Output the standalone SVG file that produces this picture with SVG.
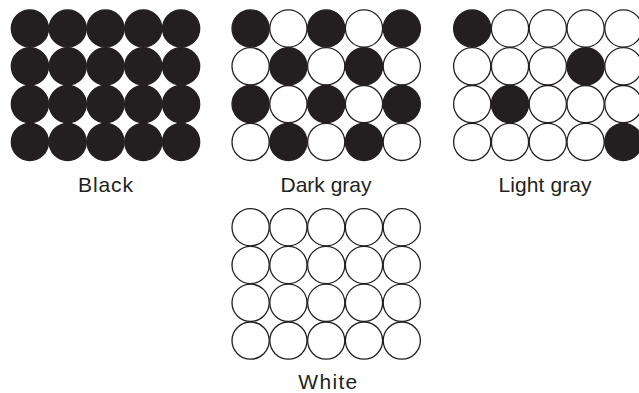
<svg xmlns="http://www.w3.org/2000/svg" width="639" height="393" viewBox="0 0 639 393">
<style>
.w{fill:#ffffff;stroke:#231f20;stroke-width:1.3}
.b{fill:#231f20;stroke:#231f20;stroke-width:1.3}
.lbl{font-family:"Liberation Sans",Arial,sans-serif;font-size:21px;fill:#231f20;text-anchor:middle}
</style>
<rect width="639" height="393" fill="#ffffff"/>
<g id="black">
<g transform="translate(29.9,28.5)">
<circle class="b" cx="0" cy="0" r="18.6"/><circle class="b" cx="37.8" cy="0" r="18.6"/><circle class="b" cx="75.6" cy="0" r="18.6"/><circle class="b" cx="113.4" cy="0" r="18.6"/><circle class="b" cx="151.2" cy="0" r="18.6"/>
<circle class="b" cx="0" cy="37.8" r="18.6"/><circle class="b" cx="37.8" cy="37.8" r="18.6"/><circle class="b" cx="75.6" cy="37.8" r="18.6"/><circle class="b" cx="113.4" cy="37.8" r="18.6"/><circle class="b" cx="151.2" cy="37.8" r="18.6"/>
<circle class="b" cx="0" cy="75.6" r="18.6"/><circle class="b" cx="37.8" cy="75.6" r="18.6"/><circle class="b" cx="75.6" cy="75.6" r="18.6"/><circle class="b" cx="113.4" cy="75.6" r="18.6"/><circle class="b" cx="151.2" cy="75.6" r="18.6"/>
<circle class="b" cx="0" cy="113.4" r="18.6"/><circle class="b" cx="37.8" cy="113.4" r="18.6"/><circle class="b" cx="75.6" cy="113.4" r="18.6"/><circle class="b" cx="113.4" cy="113.4" r="18.6"/><circle class="b" cx="151.2" cy="113.4" r="18.6"/>
</g>
<text class="lbl" x="105.5" y="192" textLength="55" lengthAdjust="spacing">Black</text>
</g>
<g id="dark-gray">
<g transform="translate(250.6,28.5)">
<circle class="b" cx="0" cy="0" r="18.6"/><circle class="w" cx="37.8" cy="0" r="18.6"/><circle class="b" cx="75.6" cy="0" r="18.6"/><circle class="w" cx="113.4" cy="0" r="18.6"/><circle class="b" cx="151.2" cy="0" r="18.6"/>
<circle class="w" cx="0" cy="37.8" r="18.6"/><circle class="b" cx="37.8" cy="37.8" r="18.6"/><circle class="w" cx="75.6" cy="37.8" r="18.6"/><circle class="b" cx="113.4" cy="37.8" r="18.6"/><circle class="w" cx="151.2" cy="37.8" r="18.6"/>
<circle class="b" cx="0" cy="75.6" r="18.6"/><circle class="w" cx="37.8" cy="75.6" r="18.6"/><circle class="b" cx="75.6" cy="75.6" r="18.6"/><circle class="w" cx="113.4" cy="75.6" r="18.6"/><circle class="b" cx="151.2" cy="75.6" r="18.6"/>
<circle class="w" cx="0" cy="113.4" r="18.6"/><circle class="b" cx="37.8" cy="113.4" r="18.6"/><circle class="w" cx="75.6" cy="113.4" r="18.6"/><circle class="b" cx="113.4" cy="113.4" r="18.6"/><circle class="w" cx="151.2" cy="113.4" r="18.6"/>
</g>
<text class="lbl" x="326" y="192" textLength="91" lengthAdjust="spacing">Dark gray</text>
</g>
<g id="light-gray">
<g transform="translate(472.2,28.5)">
<circle class="b" cx="0" cy="0" r="18.6"/><circle class="w" cx="37.8" cy="0" r="18.6"/><circle class="w" cx="75.6" cy="0" r="18.6"/><circle class="w" cx="113.4" cy="0" r="18.6"/><circle class="w" cx="151.2" cy="0" r="18.6"/>
<circle class="w" cx="0" cy="37.8" r="18.6"/><circle class="w" cx="37.8" cy="37.8" r="18.6"/><circle class="w" cx="75.6" cy="37.8" r="18.6"/><circle class="b" cx="113.4" cy="37.8" r="18.6"/><circle class="w" cx="151.2" cy="37.8" r="18.6"/>
<circle class="w" cx="0" cy="75.6" r="18.6"/><circle class="b" cx="37.8" cy="75.6" r="18.6"/><circle class="w" cx="75.6" cy="75.6" r="18.6"/><circle class="w" cx="113.4" cy="75.6" r="18.6"/><circle class="w" cx="151.2" cy="75.6" r="18.6"/>
<circle class="w" cx="0" cy="113.4" r="18.6"/><circle class="w" cx="37.8" cy="113.4" r="18.6"/><circle class="w" cx="75.6" cy="113.4" r="18.6"/><circle class="w" cx="113.4" cy="113.4" r="18.6"/><circle class="b" cx="151.2" cy="113.4" r="18.6"/>
</g>
<text class="lbl" x="545" y="192" textLength="93" lengthAdjust="spacing">Light gray</text>
</g>
<g id="white">
<g transform="translate(250.6,227.2)">
<circle class="w" cx="0" cy="0" r="18.6"/><circle class="w" cx="37.8" cy="0" r="18.6"/><circle class="w" cx="75.6" cy="0" r="18.6"/><circle class="w" cx="113.4" cy="0" r="18.6"/><circle class="w" cx="151.2" cy="0" r="18.6"/>
<circle class="w" cx="0" cy="37.8" r="18.6"/><circle class="w" cx="37.8" cy="37.8" r="18.6"/><circle class="w" cx="75.6" cy="37.8" r="18.6"/><circle class="w" cx="113.4" cy="37.8" r="18.6"/><circle class="w" cx="151.2" cy="37.8" r="18.6"/>
<circle class="w" cx="0" cy="75.6" r="18.6"/><circle class="w" cx="37.8" cy="75.6" r="18.6"/><circle class="w" cx="75.6" cy="75.6" r="18.6"/><circle class="w" cx="113.4" cy="75.6" r="18.6"/><circle class="w" cx="151.2" cy="75.6" r="18.6"/>
<circle class="w" cx="0" cy="113.4" r="18.6"/><circle class="w" cx="37.8" cy="113.4" r="18.6"/><circle class="w" cx="75.6" cy="113.4" r="18.6"/><circle class="w" cx="113.4" cy="113.4" r="18.6"/><circle class="w" cx="151.2" cy="113.4" r="18.6"/>
</g>
<text class="lbl" x="327.8" y="389" textLength="59" lengthAdjust="spacing">White</text>
</g>
</svg>
